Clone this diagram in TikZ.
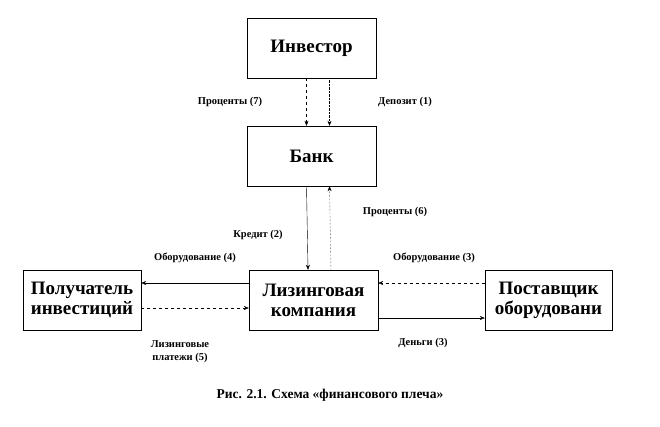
\documentclass[tikz,border=0pt]{standalone}
\usepackage{fontspec}
\setmainfont{Liberation Serif}
\usetikzlibrary{arrows.meta,positioning}

\begin{document}
\begin{tikzpicture}[x=1pt,y=-1pt,
        box/.style={
            draw, rectangle, minimum width=129pt, minimum height=60pt,
            inner sep=2pt, align=center, font=\fontsize{19}{20}\selectfont\bfseries
        },
        lbl/.style={font=\fontsize{10.5}{13}\selectfont\bfseries, align=center},
        >={Stealth[length=5pt,width=4pt]}, thin
      ]
  \useasboundingbox (0,0) rectangle (660,426);

  \node[box] (inv) at (311.5,48)  {Инвестор};
  \node[box] (bank) at (311.5,156) {Банк};
  \node[box] (lease) at (313.5,300) {Лизинговая\\компания};
  \node[box,minimum width=118pt] (recv) at (82,300) {Получатель\\инвестиций};
  \node[box,minimum width=127pt] (supp) at (548.5,300) {Поставщик\\оборудовани};

  \draw[->,dashed] ([xshift=-5pt]inv.south) -- ([xshift=-5pt]bank.north);
  \draw[->,densely dotted] ([xshift=18pt]inv.south) -- ([xshift=18pt]bank.north);
  \draw[->] ([xshift=-5pt]bank.south) -- ([xshift=-5.5pt]lease.north);
  \draw[->,densely dotted] ([xshift=17.5pt]lease.north) -- ([xshift=18pt]bank.south);

  \draw[->] ([yshift=17pt]lease.west) -- ([yshift=17pt]recv.east);
  \draw[->,dashed] ([yshift=-8pt]recv.east) -- ([yshift=-8pt]lease.west);
  \draw[->,dashed] ([yshift=17pt]supp.west) -- ([yshift=17pt]lease.east);
  \draw[->] ([yshift=-18pt]lease.east) -- ([yshift=-18pt]supp.west);

  % labels
  \node[lbl] (l7) at (230,102) {Проценты (7)};
  \node[lbl] (l1) at (405,102) {Депозит (1)};
  \node[lbl] (l2) at (258,235) {Кредит (2)};
  \node[lbl] (l6) at (395,212) {Проценты (6)};
  \node[lbl] (l4) at (195,258) {Оборудование (4)};
  \node[lbl] (l3a) at (434,258) {Оборудование (3)};
  \node[lbl] (l5) at (180,352) {Лизинговые\\платежи (5)};
  \node[lbl] (l3b) at (423,343) {Деньги (3)};

  \node[font=\fontsize{13.5}{15}\selectfont\bfseries] (cap) at (330,395)
      {Рис. 2.1. Схема «финансового плеча»};
\end{tikzpicture}
\end{document}
